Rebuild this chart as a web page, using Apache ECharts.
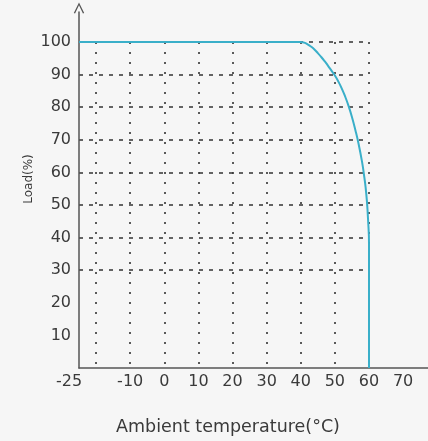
<!DOCTYPE html>
<html>
<head>
<meta charset="utf-8">
<script src="https://cdn.jsdelivr.net/npm/echarts@6/dist/echarts.min.js"></script>
<style>
html,body{margin:0;padding:0;background:#f6f6f6;}
#c{width:428px;height:441px;}
</style>
</head>
<body>
<div id="c"></div>
<script>
// Derating curve: ambient temperature (°C) vs load (%)
const tempC   = [-25, 40, 41, 42, 43, 44, 45, 46, 47, 48, 49, 50, 51, 52, 53, 54, 55, 56, 57, 58, 58.5, 59, 59.4, 59.7, 60, 60];
const loadPct = [100, 100, 99.8, 99.3, 98.6, 97.7, 96.6, 95.4, 94.1, 92.7, 91.2, 89.7, 87.9, 85.8, 83.3, 80.4, 77, 73, 68.5, 63, 59.5, 55.5, 51, 46, 38, 0];

const xLabelValues = [-25, -10, 0, 10, 20, 30, 40, 50, 60, 70];
const xGridValues  = [-20, -10, 0, 10, 20, 30, 40, 50, 60];
const yLabelValues = [10, 20, 30, 40, 50, 60, 70, 80, 90, 100];
const yGridValues  = [30, 40, 50, 60, 70, 80, 90, 100];

const xName = 'Ambient temperature(°C)';
const yName = 'Load(%)';

const FONT = 'DejaVu Sans';
const chart = echarts.init(document.getElementById('c'), null, {renderer: 'canvas'});

const chevron = 'path://M0,10 L5,0 L10,10 L8.8,10.6 L5,2.6 L1.2,10.6 Z';

chart.setOption({
  backgroundColor: '#f6f6f6',
  animation: false,
  grid: [
    {left: 79, right: 59, top: 42, bottom: 73},
    {left: 79, right: 0, top: 12, bottom: 73}
  ],
  xAxis: [
    {
      gridIndex: 0, type: 'value', min: -25, max: 60,
      axisLine: {show: false, onZero: false},
      axisTick: {show: false, customValues: xGridValues},
      axisLabel: {show: false},
      splitLine: {show: true, lineStyle: {type: [2, 8], color: '#333', width: 1.6}}
    },
    {
      gridIndex: 1, type: 'value', min: -25, max: 77.3,
      axisLine: {show: true, onZero: false, lineStyle: {color: '#555', width: 1.5}},
      axisTick: {show: false},
      splitLine: {show: false},
      axisLabel: {
        customValues: xLabelValues,
        color: '#3a3a3a', fontFamily: FONT, fontSize: 16, margin: 6,
        formatter: function (v) { return v === -25 ? '{m|-25}' : String(v); },
        rich: {m: {fontFamily: FONT, fontSize: 16, color: '#3a3a3a', padding: [0, 20, 0, 0]}}
      }
    }
  ],
  yAxis: [
    {
      gridIndex: 0, type: 'value', min: 0, max: 100,
      axisLine: {show: false, onZero: false},
      axisTick: {show: false, customValues: yGridValues},
      axisLabel: {show: false},
      splitLine: {show: true, lineStyle: {type: [4, 6], color: '#333', width: 1.6}}
    },
    {
      gridIndex: 1, type: 'value', min: 0, max: 109.2,
      axisLine: {show: true, onZero: false, lineStyle: {color: '#555', width: 1.5},
                 symbol: ['none', chevron], symbolSize: [12, 11], symbolOffset: [0, 4]},
      axisTick: {show: false},
      splitLine: {show: false},
      axisLabel: {
        customValues: yLabelValues,
        color: '#3a3a3a', fontFamily: FONT, fontSize: 16, margin: 8
      }
    }
  ],
  series: [{
    type: 'line',
    xAxisIndex: 0, yAxisIndex: 0,
    data: tempC.map((t, i) => [t, loadPct[i]]),
    showSymbol: false,
    symbol: 'none',
    smooth: 0.5,
    clip: false,
    lineStyle: {color: '#3aafc9', width: 2}
  }],
  graphic: [
    {type: 'text', x: 29, y: 179, rotation: Math.PI / 2,
     style: {text: yName, fontFamily: FONT, fontSize: 12, fill: '#3a3a3a', align: 'center', verticalAlign: 'middle'}},
    {type: 'text', x: 228, y: 427,
     style: {text: xName, fontFamily: FONT, fontSize: 17.5, fill: '#3a3a3a', align: 'center', verticalAlign: 'middle'}}
  ]
});
</script>
</body>
</html>
